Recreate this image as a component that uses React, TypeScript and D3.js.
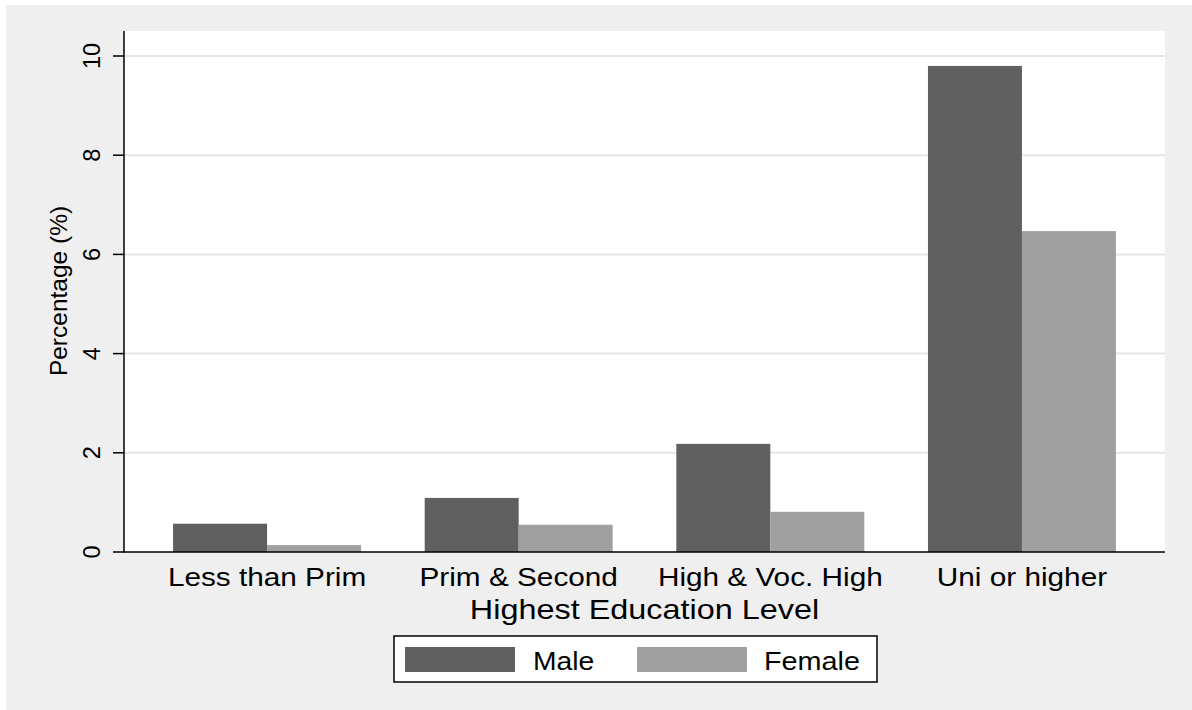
import React from "react";
import * as d3 from "d3";

const categories = ["Less than Prim", "Prim & Second", "High & Voc. High", "Uni or higher"];
const series = ["Male", "Female"];
const maleValues = [0.57, 1.09, 2.18, 9.8];
const femaleValues = [0.14, 0.55, 0.81, 6.47];
const yTicks = [0, 2, 4, 6, 8, 10];
const xTitle = "Highest Education Level";
const yTitle = "Percentage (%)";

const W = 1192;
const H = 710;
const FONT = "'Liberation Sans', Arial, Helvetica, sans-serif";
const colors: Record<string, string> = { Male: "#606060", Female: "#a0a0a0" };

const plot = { left: 124, right: 1165, top: 31, bottom: 552 };

export default function App() {
  const y = d3.scaleLinear().domain([0, 10]).range([552, 56]);
  const x0 = d3
    .scaleBand<string>()
    .domain(categories)
    .range([plot.left, plot.right])
    .paddingInner(0.253)
    .paddingOuter(0.195);
  const x1 = d3.scaleBand<string>().domain(series).range([0, x0.bandwidth()]).padding(0);
  const valuesBySeries: Record<string, number[]> = { Male: maleValues, Female: femaleValues };

  const legendItems = [
    { name: "Male", swX: 405, txtX: 533, stretch: 1.11 },
    { name: "Female", swX: 637, txtX: 764, stretch: 1.13 },
  ];

  return (
    <svg
      width={W}
      height={H}
      style={{ position: "absolute", left: 0, top: 0, display: "block" }}
      fontFamily={FONT}
    >
      <rect x={0} y={0} width={W} height={H} fill="#ffffff" />
      <rect x={6} y={5} width={W - 6} height={H - 5} fill="#efefef" />
      <rect
        x={plot.left}
        y={plot.top}
        width={plot.right - plot.left}
        height={plot.bottom - plot.top}
        fill="#ffffff"
      />
      {/* gridlines */}
      {yTicks
        .filter((t) => t > 0)
        .map((t) => (
          <line
            key={"g" + t}
            x1={plot.left}
            x2={plot.right}
            y1={y(t)}
            y2={y(t)}
            stroke="#e6e6e6"
            strokeWidth={2}
          />
        ))}
      {/* bars */}
      {categories.map((c, i) => (
        <g key={c} transform={`translate(${x0(c)},0)`}>
          {series.map((s) => (
            <rect
              key={s}
              x={x1(s)}
              y={y(valuesBySeries[s][i])}
              width={x1.bandwidth()}
              height={y(0) - y(valuesBySeries[s][i])}
              fill={colors[s]}
            />
          ))}
        </g>
      ))}
      {/* axes */}
      <line x1={plot.left} x2={plot.left} y1={plot.top} y2={plot.bottom} stroke="#000" strokeWidth={1.5} />
      <line x1={plot.left - 1} x2={plot.right} y1={plot.bottom} y2={plot.bottom} stroke="#000" strokeWidth={1.5} />
      {yTicks.map((t) => (
        <g key={"t" + t}>
          <line x1={plot.left - 11} x2={plot.left} y1={y(t)} y2={y(t)} stroke="#000" strokeWidth={1.5} />
          <text
            transform={`translate(100,${y(t)}) rotate(-90)`}
            textAnchor="middle"
            fontSize={23.5}
            fill="#000"
          >
            {t}
          </text>
        </g>
      ))}
      <text
        transform={`translate(66.5,291) rotate(-90)`}
        textAnchor="middle"
        fontSize={24.5}
        fill="#000"
      >
        {yTitle}
      </text>
      {categories.map((c) => (
        <text
          key={"l" + c}
          transform={`translate(${(x0(c) as number) + x0.bandwidth() / 2},586) scale(1.19,1)`}
          textAnchor="middle"
          fontSize={25}
          fill="#000"
        >
          {c}
        </text>
      ))}
      <text
        transform={`translate(${(plot.left + plot.right) / 2 + 0},618.5) scale(1.2,1)`}
        textAnchor="middle"
        fontSize={27}
        fill="#000"
      >
        {xTitle}
      </text>
      {/* legend */}
      <rect x={394} y={636} width={483} height={46} fill="#ffffff" stroke="#000" strokeWidth={1.5} />
      {legendItems.map((it) => (
        <g key={it.name}>
          <rect x={it.swX} y={647} width={110} height={25} fill={colors[it.name]} />
          <text
            transform={`translate(${it.txtX},669.5) scale(${it.stretch},1)`}
            fontSize={25.5}
            fill="#000"
          >
            {it.name}
          </text>
        </g>
      ))}
    </svg>
  );
}
